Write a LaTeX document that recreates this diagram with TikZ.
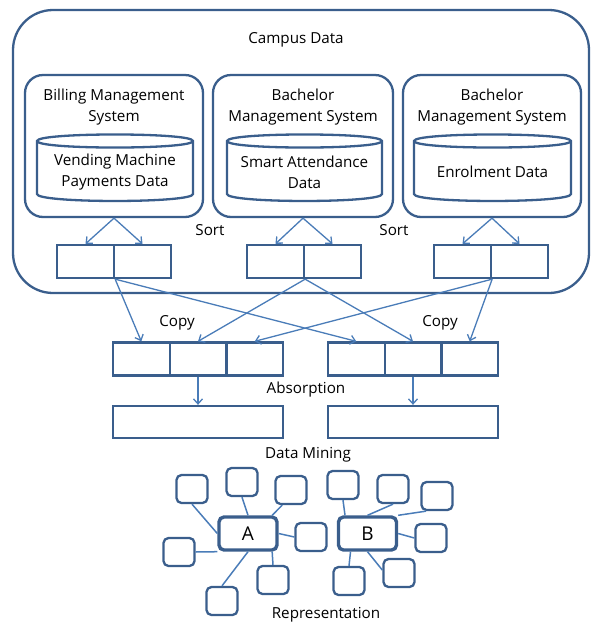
\documentclass[tikz,border=0pt]{standalone}
\usepackage{fontspec}
\setmainfont{Open Sans}
\usetikzlibrary{arrows.meta}
\definecolor{frame}{HTML}{3A5E8C}
\definecolor{link}{HTML}{4A7CB8}
\begin{document}
\begin{tikzpicture}[x=1pt,y=-1pt,
  font=\fontsize{15.2}{21}\selectfont,
  box/.style={draw=frame, line width=2.3pt, fill=white, inner sep=0pt},
  container/.style={box, rounded corners=40pt, minimum width=576pt, minimum height=283pt},
  sysbox/.style={box, rounded corners=18pt, minimum height=142pt},
  cell/.style={box, minimum width=57pt, minimum height=33pt},
  wide/.style={box, minimum width=170pt, minimum height=32pt},
  hub/.style={draw=frame, line width=3.4pt, rounded corners=5pt, minimum width=58pt, minimum height=33pt, inner sep=0pt, font=\fontsize{19}{20}\selectfont},
  leaf/.style={draw=frame, line width=2.3pt, rounded corners=5pt, minimum width=31pt, minimum height=28pt, inner sep=0pt},
  flow/.style={draw=link, line width=1.3pt, -{Straight Barb[length=5pt,width=9pt]}},
  spoke/.style={draw=link, line width=1.5pt},
  caption/.style={align=center, inner sep=0pt}
]
\useasboundingbox (0,0) rectangle (592,625);

% campus frame and the three source systems
\node[container] (campus) at (301,151.5) {};
\node[caption] (campustitle) at (296,40) {Campus Data};

\node[sysbox, minimum width=178pt] (sys1) at (114,146) {};
\node[sysbox, minimum width=180pt] (sys2) at (303,146) {};
\node[sysbox, minimum width=178pt] (sys3) at (492,146) {};

\node[caption] (t1) at (114,107.5) {Billing Management\\System};
\node[caption] (t2) at (303,107.5) {Bachelor\\Management System};
\node[caption] (t3) at (492,107.5) {Bachelor\\Management System};

% database cylinders: x1, x2, top-ellipse centre, body bottom
\foreach \xa/\xb in {37/193, 227/382, 414/571}{
  \draw[frame, line width=2.3pt, fill=white]
    (\xa,141) -- (\xa,194) .. controls (\xa,203.3) and (\xb,203.3) .. (\xb,194) -- (\xb,141)
    .. controls (\xb,132.3) and (\xa,132.3) .. (\xa,141) -- cycle;
  \draw[frame, line width=2.3pt]
    (\xa,141) .. controls (\xa,149.7) and (\xb,149.7) .. (\xb,141);
}
\node[caption] (d1) at (115,172.5) {Vending Machine\\Payments Data};
\node[caption] (d2) at (304.5,172.5) {Smart Attendance\\Data};
\node[caption] (d3) at (492.5,172) {Enrolment Data};

% sort stage
\node[cell] (s1a) at (85.5,261.5) {};
\node[cell] (s1b) at (142.5,261.5) {};
\node[cell] (s2a) at (275.5,261.5) {};
\node[cell] (s2b) at (332.5,261.5) {};
\node[cell] (s3a) at (462.5,261.5) {};
\node[cell] (s3b) at (519.5,261.5) {};
\node[caption] (sortl) at (210,230) {Sort};
\node[caption] (sortr) at (394,230) {Sort};

\draw[flow] (sys1.south) -- (s1a.north);
\draw[flow] (sys1.south) -- (s1b.north);
\draw[flow] (sys2.south) -- (s2a.north);
\draw[flow] (sys2.south) -- (s2b.north);
\draw[flow] (sys3.south) -- (s3a.north);
\draw[flow] (sys3.south) -- (s3b.north);

% copy stage
\node[cell, minimum width=56.7pt] (c1a) at (141.3,359) {};
\node[cell, minimum width=56.7pt] (c1b) at (198,359) {};
\node[cell, minimum width=56.7pt] (c1c) at (254.7,359) {};
\node[cell, minimum width=56.7pt] (c2a) at (356.3,359) {};
\node[cell, minimum width=56.7pt] (c2b) at (413,359) {};
\node[cell, minimum width=56.7pt] (c2c) at (469.7,359) {};
\node[caption] (copyl) at (177,323) {Copy};
\node[caption] (copyr) at (440,323) {Copy};

\draw[flow] (s1a.south east) -- (c1a.north);
\draw[flow] (s1a.south east) -- (c2a.north);
\draw[flow] (s2a.south east) -- (c1b.north);
\draw[flow] (s2a.south east) -- (c2b.north);
\draw[flow] (s3a.south east) -- (c1c.north);
\draw[flow] (s3a.south east) -- (c2c.north);

% absorption stage
\node[caption] (absorb) at (306,390) {Absorption};
\node[wide] (m1) at (198,422) {};
\node[wide] (m2) at (413,422) {};
\draw[flow] (c1b.south) -- (m1.north);
\draw[flow] (c2b.south) -- (m2.north);

\node[caption] (mining) at (308,455) {Data Mining};

% representation graph
\node[hub] (A) at (248,533.5) {A};
\node[hub] (B) at (367.5,533.5) {B};

\node[leaf] (a1) at (192,489) {};
\node[leaf] (a2) at (242,482) {};
\node[leaf] (a3) at (291,490) {};
\node[leaf] (a4) at (179,552) {};
\node[leaf] (a5) at (311,537) {};
\node[leaf] (a6) at (273,580) {};
\node[leaf] (a7) at (222,601) {};
\node[leaf] (b1) at (343,485) {};
\node[leaf] (b2) at (393,489) {};
\node[leaf] (b3) at (437,496) {};
\node[leaf] (b4) at (431,538) {};
\node[leaf] (b5) at (399,573) {};
\node[leaf] (b6) at (349,581) {};

\draw[spoke] (a1.south) -- (A.west);
\draw[spoke] (a2.south) -- (A.north);
\draw[spoke] (a3.240) -- (A.37);
\draw[spoke] (a4.east) -- (A.south west);
\draw[spoke] (a5.west) -- (A.east);
\draw[spoke] (a6.north) -- (A.-37);
\draw[spoke] (a7.north) -- (A.south);
\draw[spoke] (b1.south) -- (B.141);
\draw[spoke] (b2.south) -- (B.north);
\draw[spoke] (b3.234) -- (B.north east);
\draw[spoke] (b4.west) -- (B.east);
\draw[spoke] (b5.170) -- (B.south);
\draw[spoke] (b6.north) -- (B.227);

\node[caption] (repr) at (326,615) {Representation};
\end{tikzpicture}
\end{document}
